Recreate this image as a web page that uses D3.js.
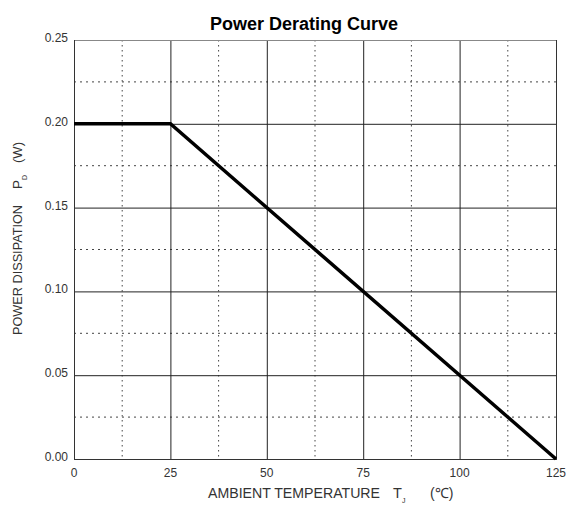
<!DOCTYPE html>
<html><head><meta charset="utf-8">
<script src="https://cdn.jsdelivr.net/npm/d3@7"></script>
<style>body{margin:0;background:#fff}</style>
</head><body>
<svg id="c" width="568" height="511"></svg>
<script>
const temps = [0, 25, 125];
const power = [0.20, 0.20, 0.00];
const xTicks = [0, 25, 50, 75, 100, 125];
const yTicks = [0.00, 0.05, 0.10, 0.15, 0.20, 0.25];
const xMinor = [12.5, 37.5, 62.5, 87.5, 112.5];
const yMinor = [0.025, 0.075, 0.125, 0.175, 0.225];

const svg = d3.select("#c");
const m = {l:74, r:556, t:40, b:459};
const x = d3.scaleLinear().domain([0,125]).range([m.l, m.r]);
const y = d3.scaleLinear().domain([0,0.25]).range([m.b, m.t]);
const font = "Liberation Sans, Arial, sans-serif";

// minor dotted grid
svg.append("g").selectAll("line").data(xMinor).join("line")
  .attr("x1", d=>x(d)).attr("x2", d=>x(d)).attr("y1", m.t).attr("y2", m.b)
  .attr("stroke", "#444").attr("stroke-width", 1).attr("stroke-dasharray", "1.5,3.5");
svg.append("g").selectAll("line").data(yMinor).join("line")
  .attr("y1", d=>y(d)).attr("y2", d=>y(d)).attr("x1", m.l).attr("x2", m.r)
  .attr("stroke", "#444").attr("stroke-width", 1).attr("stroke-dasharray", "2,4");

// major solid grid
svg.append("g").selectAll("line").data(xTicks.slice(1,-1)).join("line")
  .attr("x1", d=>x(d)+0.5).attr("x2", d=>x(d)+0.5).attr("y1", m.t).attr("y2", m.b)
  .attr("stroke", "#222").attr("stroke-width", 1);
svg.append("g").selectAll("line").data(yTicks.slice(1,-1)).join("line")
  .attr("y1", d=>y(d)+0.5).attr("y2", d=>y(d)+0.5).attr("x1", m.l).attr("x2", m.r)
  .attr("stroke", "#222").attr("stroke-width", 1);

// frame
svg.append("line").attr("x1", m.l).attr("x2", m.r).attr("y1", m.t+0.5).attr("y2", m.t+0.5).attr("stroke", "#888");
svg.append("line").attr("x1", m.l).attr("x2", m.r).attr("y1", m.b+0.5).attr("y2", m.b+0.5).attr("stroke", "#333");
svg.append("line").attr("x1", m.l+0.5).attr("x2", m.l+0.5).attr("y1", m.t).attr("y2", m.b+1).attr("stroke", "#333");
svg.append("line").attr("x1", m.r+0.5).attr("x2", m.r+0.5).attr("y1", m.t).attr("y2", m.b+1).attr("stroke", "#333");

// tick labels
svg.append("g").selectAll("text").data(yTicks).join("text")
  .attr("x", m.l-6).attr("y", d=>y(d)+2).attr("text-anchor","end")
  .attr("font-family", font).attr("font-size", 12).attr("fill", "#333")
  .text(d=>d.toFixed(2));
svg.append("g").selectAll("text").data(xTicks).join("text")
  .attr("x", d=>x(d)).attr("y", m.b+18).attr("text-anchor","middle")
  .attr("font-family", font).attr("font-size", 12).attr("fill", "#333")
  .text(d=>d);

// curve
const line = d3.line().x(d=>x(d[0])).y(d=>y(d[1]));
svg.append("path").datum(temps.map((t,i)=>[t, power[i]]))
  .attr("d", line).attr("fill","none").attr("stroke","#000").attr("stroke-width",3.5);

// title
svg.append("text").attr("x", 304).attr("y", 30).attr("text-anchor","middle")
  .attr("font-family", font).attr("font-weight","bold").attr("font-size", 18).attr("fill","#000")
  .text("Power Derating Curve");

// x axis title
const xg = svg.append("g").attr("font-family", font).attr("fill","#333");
xg.append("text").attr("x", 208).attr("y", 498).attr("font-size", 14.5)
  .attr("textLength", 172).attr("lengthAdjust","spacingAndGlyphs").text("AMBIENT TEMPERATURE");
xg.append("text").attr("x", 393).attr("y", 498).attr("font-size", 14.5).text("T");
xg.append("text").attr("x", 402).attr("y", 503).attr("font-size", 7).text("J");
xg.append("text").attr("x", 430).attr("y", 498).attr("font-size", 14).text("(℃)");

// y axis title
const yg = svg.append("g").attr("transform","translate(22,0) rotate(-90)")
  .attr("font-family", font).attr("fill","#333");
yg.append("text").attr("x", -335).attr("y", 0).attr("font-size", 13.5)
  .attr("textLength", 130).attr("lengthAdjust","spacingAndGlyphs").text("POWER DISSIPATION");
yg.append("text").attr("x", -189).attr("y", 0).attr("font-size", 13.5).text("P");
yg.append("text").attr("x", -180).attr("y", 5).attr("font-size", 7).text("D");
yg.append("text").attr("x", -163).attr("y", 0).attr("font-size", 13.5)
  .attr("textLength", 21).attr("lengthAdjust","spacingAndGlyphs").text("(W)");
</script>
</body></html>
